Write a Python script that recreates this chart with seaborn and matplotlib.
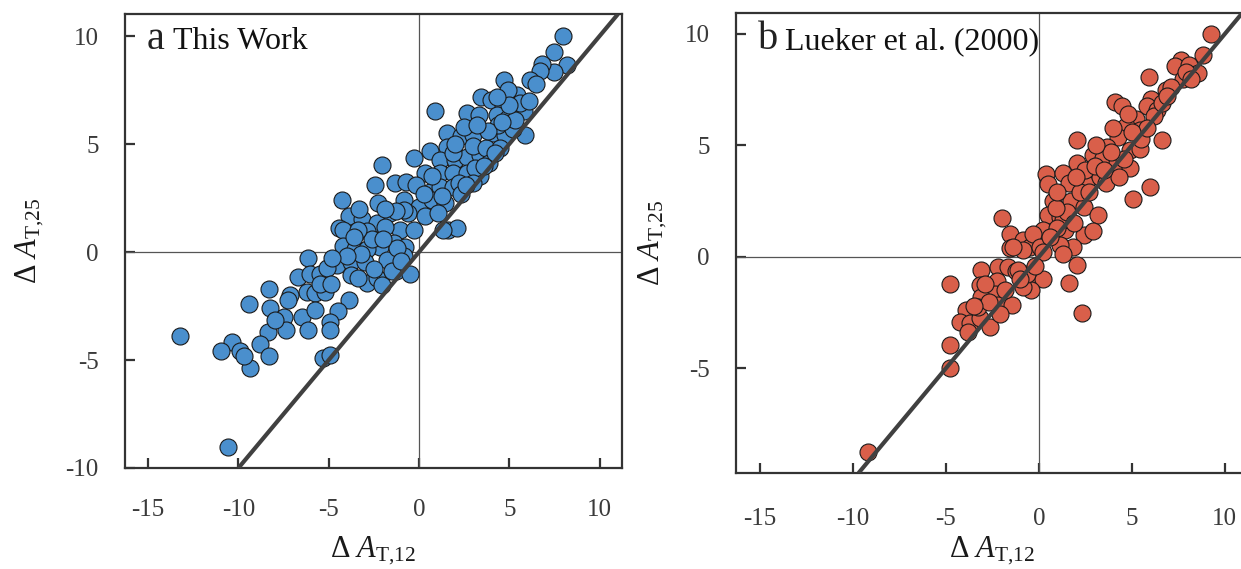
import numpy as np
import pandas as pd
import matplotlib
matplotlib.use("Agg")
import matplotlib.pyplot as plt
import seaborn as sns

# ---------------- data ----------------
a_x = [8.0, 7.5, 8.2, 7.5, 6.8, 6.7, 6.15, 6.5, 4.7, 5.4, 5.8, 5.85, 0.9, 3.45, 4.0, 4.65,
       2.65, 3.3, 4.3, 4.95, 1.55, 2.35, 3.0, 4.1, 4.75, 4.4, 1.55, 0.6, -0.3, -2.05, 1.15,
       2.0, 2.65, 3.4, 0.35, 1.15, 1.9, 2.65, 3.4, -1.35, -0.7, -0.15, 0.6, 1.15, 1.9, -0.85,
       0.0, 0.7, 1.45, -2.25, -1.6, -0.6, 0.35, 1.05, 1.6, 2.1, -1.05, -0.3, -2.15, -1.4,
       -2.15, -0.8,
       3.0, 3.7, 2.2, 3.9, 4.5, 5.2, 2.3, 3.1, 4.9, 5.6, 6.1, 5.3, 1.9, 0.7, 2.5, 3.8, 3.0, 4.2,
       -4.25, -2.45, -0.85, -3.9, -3.15, -2.35, -4.45, -4.2, -2.9, -1.9, 1.35, -4.2, -3.55, -2.9,
       -6.15, -4.55, -3.75, -3.0, -1.8, -0.85, -6.7, -6.05, -5.5, -5.1, -3.75, -2.9, -2.35, -2.05,
       -1.25, -0.5, -8.3, -6.2, -7.15, -5.75, -5.2, -9.4, -8.25, -7.5, -6.5, -5.75, -3.85, -4.5,
       -4.95, -4.95, -6.15, -7.35, -8.35, -7.95, -10.35, -8.8, -9.9, -8.3, -5.3, -4.95, -9.35,
       -13.25, -10.95, -9.7, -10.55, -7.25,
       -3.4, -1.5, -2.6, -3.4, -1.3, -5.5, -4.9,
       -3.6, -3.2, -2.5, -4.0, -1.2, -2.0, -3.3, -1.9, -1.0, -4.8,
       2.0, 3.6, 4.6, 1.3, 2.6, 0.3, 3.2, 5.0, 4.3]
a_y = [10.0, 9.25, 8.65, 8.35, 8.7, 8.4, 7.95, 7.8, 7.95, 7.25, 6.55, 5.4, 6.55, 7.2, 7.05, 6.8,
       6.45, 6.35, 6.35, 6.2, 5.5, 5.35, 5.4, 5.5, 5.4, 5.9, 4.85, 4.7, 4.35, 4.05, 4.25,
       4.25, 4.4, 4.5, 3.65, 3.65, 3.65, 3.65, 3.5, 3.2, 3.25, 3.1, 2.8, 3.0, 3.0, 2.4,
       2.1, 2.4, 2.25, 2.25, 1.8, 1.8, 1.65, 1.8, 1.0, 1.1, 1.0, 1.0, 1.0, 0.4,
       0.25, 0.25,
       4.9, 4.8, 3.2, 4.1, 4.8, 5.7, 2.7, 3.9, 7.5, 6.9, 7.0, 6.1, 4.6, 3.5, 5.8, 5.6, 3.2, 4.6,
       2.4, 3.1, 1.95, 1.65, 1.55, 1.35, 1.1, 1.0, 0.95, 1.15, 1.0, 0.3, 0.15, 0.15,
       -0.3, -0.6, -0.45, -0.45, -0.35, -0.2, -1.15, -1.0, -1.0, -0.75, -1.05, -1.45, -1.2, -1.55,
       -0.9, -1.0, -1.7, -1.85, -2.0, -1.9, -1.85, -2.4, -2.6, -3.0, -3.0, -2.7, -2.2, -2.75,
       -3.25, -3.6, -3.6, -3.6, -3.7, -3.15, -4.15, -4.25, -4.6, -4.8, -4.9, -4.75, -5.35,
       -3.9, -4.6, -4.8, -9.05, -2.2,
       -1.2, -0.9, 0.6, 1.0, 1.9, -1.5, -1.5,
       0.7, -0.1, -0.8, -0.2, 0.2, 0.6, 2.0, 2.0, -0.4, -0.3,
       5.0, 4.0, 6.0, 2.6, 3.1, 2.7, 5.9, 6.8, 7.2]

b_x = [9.25, 7.65, 8.85, 7.3, 8.05, 8.55, 7.75, 5.95, 6.85, 6.05, 4.1, 4.45, 5.8, 6.35, 5.25,
       4.7, 5.45, 6.6, 2.05, 4.25, 3.65, 4.9, 5.45, 2.9, 3.45, 2.05, 4.2, 4.9, 0.4, 1.3, 0.5,
       1.65, 2.55, 3.3, 6.0, 5.05, 0.75, 1.75, 2.45, 3.2, -2.0, 0.5, 1.15, -1.55, -0.85, 0.25,
       1.4, 2.45, 2.9, 1.85, 1.15, -0.5, -1.55,
       -0.3, 1.3, 2.05, 1.6, 2.3, -4.75, -3.1, -2.2, -1.65, -3.15, -2.25, -1.2, -0.6, 0.25,
       -0.4, -0.85, -2.35, -3.1, -3.9, -4.25, -3.7, -3.15, -2.65, -2.2, -1.45, -3.8, -4.8, -2.1,
       -3.25, -4.75, -9.2, 1.3, -0.65, -1.1, -0.85, 0.05, -1.4,
       2.5, 3.0, 3.6, 4.6, 5.5, 6.2, 3.9, 2.2, 1.0, 0.6, 2.7, 1.5, 0.9, 4.3, 5.8, 7.1, 7.9,
       6.6, -1.8, -2.7,
       3.1, 4.0, 5.0, 3.5, 1.9, 0.2, -0.2, -1.0, -2.9, -3.5, 6.9, 8.2, 4.8, 2.0, 1.0]
b_y = [10.0, 8.85, 9.05, 8.55, 8.6, 8.25, 8.0, 8.05, 7.5, 7.1, 6.95, 6.75, 6.75, 6.6, 6.2,
       5.85, 5.7, 5.25, 5.25, 5.4, 4.95, 4.8, 4.85, 4.55, 4.45, 4.2, 4.2, 4.0, 3.7, 3.75, 3.25,
       3.3, 3.25, 3.6, 3.15, 2.6, 2.5, 2.5, 2.25, 1.9, 1.75, 1.9, 1.8, 1.05, 0.75, 1.2,
       1.2, 1.0, 1.15, 0.45, 0.55, 0.45, 0.4,
       1.05, 1.65, -0.35, -1.15, -2.5, -1.2, -0.6, -0.45, -0.45, -1.25, -1.1, -0.65, -0.9, -1.0,
       -1.5, -1.35, -1.65, -1.8, -2.4, -2.9, -2.95, -2.75, -3.15, -2.15, -2.15, -3.35, -3.95, -2.55,
       -2.25, -5.0, -8.75, 0.15, -0.75, -0.6, 0.3, 0.45, 0.45,
       3.9, 4.1, 3.3, 4.4, 5.3, 6.3, 4.7, 2.9, 1.3, 0.9, 2.9, 2.0, 2.2, 3.6, 5.8, 7.6, 8.3,
       6.9, -1.5, -2.0,
       5.0, 5.8, 5.6, 3.9, 1.5, 0.2, -0.4, -1.0, -1.2, -2.2, 7.2, 8.0, 6.4, 3.6, 2.9]

x_ticks = [-15, -10, -5, 0, 5, 10]
y_ticks_a = [-10, -5, 0, 5, 10]
y_ticks_b = [-5, 0, 5, 10]
panel_letters = ["a", "b"]
panel_titles = ["This Work", "Lueker et al. (2000)"]
x_label = r"$\Delta\ \mathit{A}_{\mathrm{T{,}12}}$"
y_label = r"$\Delta\ \mathit{A}_{\mathrm{T{,}25}}$"

# ---------------- style ----------------
sns.set_style("white")
plt.rcParams["font.family"] = ["Liberation Serif", "DejaVu Serif"]
plt.rcParams["mathtext.fontset"] = "custom"
plt.rcParams["mathtext.rm"] = "Liberation Serif"
plt.rcParams["mathtext.it"] = "Liberation Serif:italic"
plt.rcParams["mathtext.bf"] = "Liberation Serif:bold"

W, H = 1241, 569
fig = plt.figure(figsize=(W / 100, H / 100), dpi=100)
fig.patch.set_facecolor("white")

ax_a = fig.add_axes([125 / W, (H - 468) / H, 497 / W, 454 / H])
ax_b = fig.add_axes([736 / W, (H - 473) / H, 511.5 / W, 460 / H])

df_a = pd.DataFrame({"x": a_x, "y": a_y})
df_b = pd.DataFrame({"x": b_x, "y": b_y})

specs = [
    (ax_a, df_a, "#4a8fcd", (-16.28, 11.24), (-10.0, 11.02), y_ticks_a, 22, 0.044, 0.097, 0.923, -0.158, -0.148),
    (ax_b, df_b, "#d95f4a", (-16.28, 11.22), (-9.69, 10.94), y_ticks_b, 25, 0.043, 0.096, 0.922, -0.131, -0.135),
]

for i, (ax, df, col, xl, yl, yt, xpad, lx, tx, ty, ylx, xly) in enumerate(specs):
    ax.axhline(0, color="#555555", lw=0.9, zorder=1)
    ax.axvline(0, color="#555555", lw=0.9, zorder=1)
    sns.scatterplot(data=df, x="x", y="y", ax=ax, color=col, edgecolor="#1a1a1a",
                    linewidth=0.8, s=150, alpha=1.0, zorder=3, legend=False)
    ax.axline((0, 0), slope=1, color="#404040", lw=3.0, zorder=4, solid_capstyle="butt")
    ax.set_xlim(*xl)
    ax.set_ylim(*yl)
    ax.set_xticks(x_ticks)
    ax.set_yticks(yt)
    ax.set_xticklabels([str(t) for t in x_ticks])
    ax.set_yticklabels([str(t) for t in yt])
    ax.tick_params(axis="both", which="major", direction="in", length=7.5, width=1.6,
                   color="#333333", labelsize=18, labelcolor="#3a3a3a",
                   bottom=True, left=True, top=False, right=False)
    ax.tick_params(axis="x", pad=xpad)
    ax.tick_params(axis="y", pad=19)
    for sp in ax.spines.values():
        sp.set_linewidth(1.6)
        sp.set_color("#333333")
        sp.set_visible(True)
    ax.set_xlabel(x_label, fontsize=22, color="#1a1a1a", va="top")
    ax.set_ylabel(y_label, fontsize=22, color="#1a1a1a", va="bottom")
    ax.xaxis.set_label_coords(0.5, xly)
    ax.yaxis.set_label_coords(ylx, 0.5)
    ax.text(lx, ty, panel_letters[i], transform=ax.transAxes, fontsize=29,
            color="#222222", ha="left", va="baseline")
    ax.text(tx, ty, panel_titles[i], transform=ax.transAxes, fontsize=23,
            color="#111111", ha="left", va="baseline")
    ax.grid(False)

fig.savefig("out.png", dpi=100, facecolor="white")
